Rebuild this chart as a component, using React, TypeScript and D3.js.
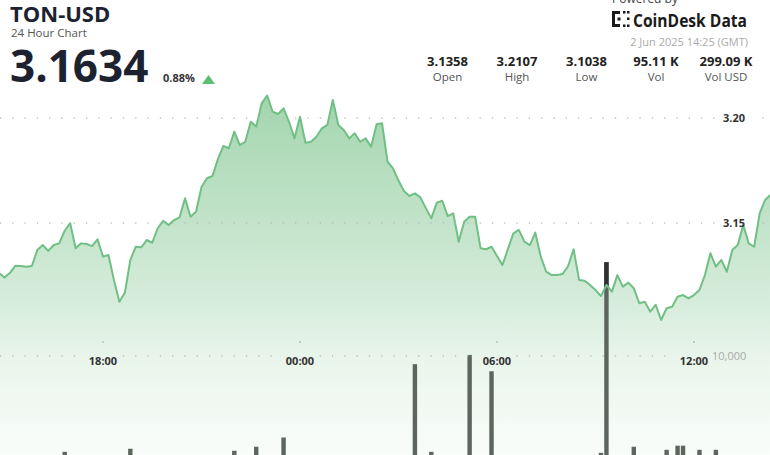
import React from 'react';
import * as d3 from 'd3';

// 10-minute closes, 1 Jun 2025 14:20 UTC → 2 Jun 2025 14:20 UTC
const START = '2025-06-01T14:20:00Z';
const END = '2025-06-02T14:20:00Z';
const STEP_MIN = 10;

const prices = [
  3.1358, 3.1320, 3.1290, 3.1262, 3.1240, 3.1263, 3.1297, 3.1295, 3.1292, 3.1295,
  3.1371, 3.1395, 3.1367, 3.1395, 3.1403, 3.1463, 3.1499, 3.1380, 3.1403, 3.1400,
  3.1390, 3.1422, 3.1340, 3.1348, 3.1229, 3.1125, 3.1168, 3.1324, 3.1387, 3.1384,
  3.1419, 3.1406, 3.1475, 3.1510, 3.1490, 3.1514, 3.1527, 3.1618, 3.1530, 3.1554,
  3.1671, 3.1713, 3.1724, 3.1805, 3.1867, 3.1856, 3.1935, 3.1871, 3.1887, 3.1982,
  3.1959, 3.2070, 3.2107, 3.2030, 3.2019, 3.2046, 3.1982, 3.1903, 3.2006, 3.1882,
  3.1887, 3.1911, 3.1951, 3.1967, 3.2086, 3.1967, 3.1943, 3.1903, 3.1927, 3.1887,
  3.1903, 3.1863, 3.1970, 3.1975, 3.1792, 3.1760, 3.1702, 3.1652, 3.1629, 3.1641,
  3.1622, 3.1571, 3.1522, 3.1597, 3.1606, 3.1533, 3.1546, 3.1411, 3.1506, 3.1530,
  3.1530, 3.1380, 3.1375, 3.1387, 3.1343, 3.1300, 3.1376, 3.1451, 3.1467, 3.1411,
  3.1395, 3.1454, 3.1340, 3.1268, 3.1252, 3.1252, 3.1257, 3.1295, 3.1375, 3.1229,
  3.1225, 3.1205, 3.1181, 3.1152, 3.1205, 3.1173, 3.1252, 3.1197, 3.1216, 3.1189,
  3.1118, 3.1125, 3.1078, 3.1110, 3.1038, 3.1094, 3.1101, 3.1149, 3.1157, 3.1141,
  3.1157, 3.1181, 3.1252, 3.1356, 3.1292, 3.1324, 3.1268, 3.1371, 3.1395, 3.1490,
  3.1403, 3.1387, 3.1546, 3.1610, 3.1634,
];

// Volume per 10-minute slot (only the non-negligible slots)
const volumeTimes = [
  '2025-06-01T16:50:00Z', '2025-06-01T18:50:00Z', '2025-06-01T22:00:00Z', '2025-06-01T22:40:00Z',
  '2025-06-01T23:30:00Z', '2025-06-02T03:30:00Z', '2025-06-02T04:00:00Z', '2025-06-02T05:10:00Z',
  '2025-06-02T05:50:00Z', '2025-06-02T09:10:00Z', '2025-06-02T09:20:00Z', '2025-06-02T10:10:00Z',
  '2025-06-02T11:10:00Z', '2025-06-02T11:30:00Z', '2025-06-02T11:40:00Z', '2025-06-02T12:10:00Z',
  '2025-06-02T12:40:00Z',
];
const volumeValues = [
  960, 1250, 1060, 1440,
  2310, 9230, 960, 10100,
  8560, 865, 18850, 1440,
  1150, 1540, 1540, 1150,
  1150,
];

const priceTicks = [3.15, 3.2];
const volumeTicks = [10000];
const timeTicks = [
  '2025-06-01T18:00:00Z', '2025-06-02T00:00:00Z', '2025-06-02T06:00:00Z', '2025-06-02T12:00:00Z',
];

const pair = 'TON-USD';
const subtitle = '24 Hour Chart';
const lastPrice = '3.1634';
const changePct = '0.88%';
const stampText = '2 Jun 2025 14:25 (GMT)';
const statValues = ['3.1358', '3.2107', '3.1038', '95.11 K', '299.09 K'];
const statLabels = ['Open', 'High', 'Low', 'Vol', 'Vol USD'];

const W = 770;
const H = 455;
const FONT = "'Open Sans', 'Noto Sans', sans-serif";

type Pt = { t: Date; p: number };

export default function App() {
  const start = new Date(START);
  const series: Pt[] = prices.map((p, i) => ({
    t: new Date(start.getTime() + i * STEP_MIN * 60000),
    p,
  }));
  const vols = volumeTimes.map((t, i) => ({ t: new Date(t), v: volumeValues[i] }));

  const x = d3.scaleUtc().domain([start, new Date(END)]).range([-17.4, 770.6]);
  const y = d3.scaleLinear().domain([3.15, 3.2]).range([223, 118]);
  const yv = d3.scaleLinear().domain([0, 10000]).range([462, 356]);

  const area = d3.area<Pt>().x((d) => x(d.t)).y0(H + 20).y1((d) => y(d.p));
  const above = d3.area<Pt>().x((d) => x(d.t)).y0(0).y1((d) => y(d.p));
  const line = d3.line<Pt>().x((d) => x(d.t)).y((d) => y(d.p));

  const dotXs = d3.range(0.5, W, 12.3);
  const fmtTime = d3.utcFormat('%H:%M');
  const fmtVol = d3.format(',');

  const timeLabelXs = timeTicks.map((t) => x(new Date(t)));
  const volGridSkip = (px: number) =>
    timeLabelXs.some((c) => Math.abs(px - c) < 19) || px > 706;

  const statCenters = [447.5, 517, 586.5, 656, 726];

  const bars = (fill: string) =>
    vols.map((d, i) => (
      <rect
        key={i}
        x={x(d.t) - 2.2}
        width={4.4}
        y={yv(d.v)}
        height={yv(0) - yv(d.v)}
        fill={fill}
      />
    ));

  return (
    <svg
      width={W}
      height={H}
      style={{ position: 'absolute', left: 0, top: 0, display: 'block', background: '#fff' }}
      fontFamily={FONT}
    >
      <defs>
        <linearGradient id="areaFill" gradientUnits="userSpaceOnUse" x1="0" y1="95" x2="0" y2="470">
          <stop offset="0" stopColor="rgb(90,180,110)" stopOpacity={0.56} />
          <stop offset="0.547" stopColor="rgb(90,180,110)" stopOpacity={0.25} />
          <stop offset="0.707" stopColor="rgb(90,180,110)" stopOpacity={0.13} />
          <stop offset="1" stopColor="rgb(90,180,110)" stopOpacity={0.02} />
        </linearGradient>
        <clipPath id="aboveLine">
          <path d={above(series) ?? ''} />
        </clipPath>
      </defs>

      {/* price area */}
      <path d={area(series) ?? ''} fill="url(#areaFill)" />

      {/* volume bars: grey under the price fill, darker where they rise above the line */}
      <g>{bars('#5d655f')}</g>
      <g clipPath="url(#aboveLine)">{bars('#303030')}</g>

      {/* price line */}
      <path d={line(series) ?? ''} fill="none" stroke="#70bf85" strokeWidth={2} strokeLinejoin="round" />

      {/* dotted price grid */}
      {priceTicks.map((tk) => (
        <g key={tk}>
          {dotXs
            .filter((px) => px < 716 || px > 752)
            .map((px) => (
              <circle key={px} cx={px} cy={y(tk)} r={0.8} fill="#b8b8b8" />
            ))}
          <text x={723} y={y(tk)} dy="0.35em" fontSize={11} fontWeight={700} fill="#333">
            {tk.toFixed(2)}
          </text>
        </g>
      ))}

      {/* dotted volume grid */}
      {volumeTicks.map((tk) => (
        <g key={tk}>
          {dotXs
            .filter((px) => !volGridSkip(px))
            .map((px) => (
              <circle key={px} cx={px} cy={yv(tk)} r={0.8} fill="#b8b8b8" />
            ))}
          <text x={712} y={yv(tk)} dy="0.35em" fontSize={11} fill="#aaa">
            {fmtVol(tk)}
          </text>
        </g>
      ))}

      {/* time axis */}
      {timeTicks.map((t) => {
        const px = x(new Date(t));
        return (
          <g key={t}>
            <circle cx={px} cy={342} r={0.8} fill="#999" />
            <text x={px} y={365} textAnchor="middle" fontSize={11} fontWeight={700} fill="#333">
              {fmtTime(new Date(t))}
            </text>
          </g>
        );
      })}

      {/* header left */}
      <text x={10} y={22} fontSize={22} fontWeight={700} fill="#1c2230">
        {pair}
      </text>
      <text x={11} y={37} fontSize={11.5} fill="#555">
        {subtitle}
      </text>
      <text x={10} y={82} fontSize={44} fontWeight={700} fill="#1c2230">
        {lastPrice}
      </text>
      <text x={163} y={82} fontSize={11} fontWeight={700} fill="#333">
        {changePct}
      </text>
      <polygon points="202,84 215,84 208.5,75" fill="#5cbf74" />

      {/* header right */}
      <text x={612} y={2.5} fontSize={12} fill="#444">
        Powered by
      </text>
      <g fill="#1a1a1a">
        <rect x={612} y={11} width={3} height={16} />
        <rect x={612} y={11} width={8} height={3} />
        <rect x={612} y={24} width={8} height={3} />
        <rect x={617.5} y={17.5} width={3} height={3} />
        <rect x={623} y={11} width={2.5} height={2.5} />
        <rect x={627} y={11} width={2.5} height={2.5} />
        <rect x={627} y={17.5} width={2.5} height={2.5} />
        <rect x={623} y={24.5} width={2.5} height={2.5} />
        <rect x={627} y={24.5} width={2.5} height={2.5} />
      </g>
      <text x={633} y={27} fontSize={17} fontWeight={700} fill="#1a1a1a" textLength={114} lengthAdjust="spacingAndGlyphs">
        CoinDesk Data
      </text>
      <text x={748} y={46} textAnchor="end" fontSize={11} fill="#aaa">
        {stampText}
      </text>

      {statValues.map((v, i) => (
        <g key={v}>
          <text x={statCenters[i]} y={65.5} textAnchor="middle" fontSize={13} fontWeight={700} fill="#222">
            {v}
          </text>
          <text x={statCenters[i]} y={81} textAnchor="middle" fontSize={11.5} fill="#555">
            {statLabels[i]}
          </text>
        </g>
      ))}
    </svg>
  );
}
